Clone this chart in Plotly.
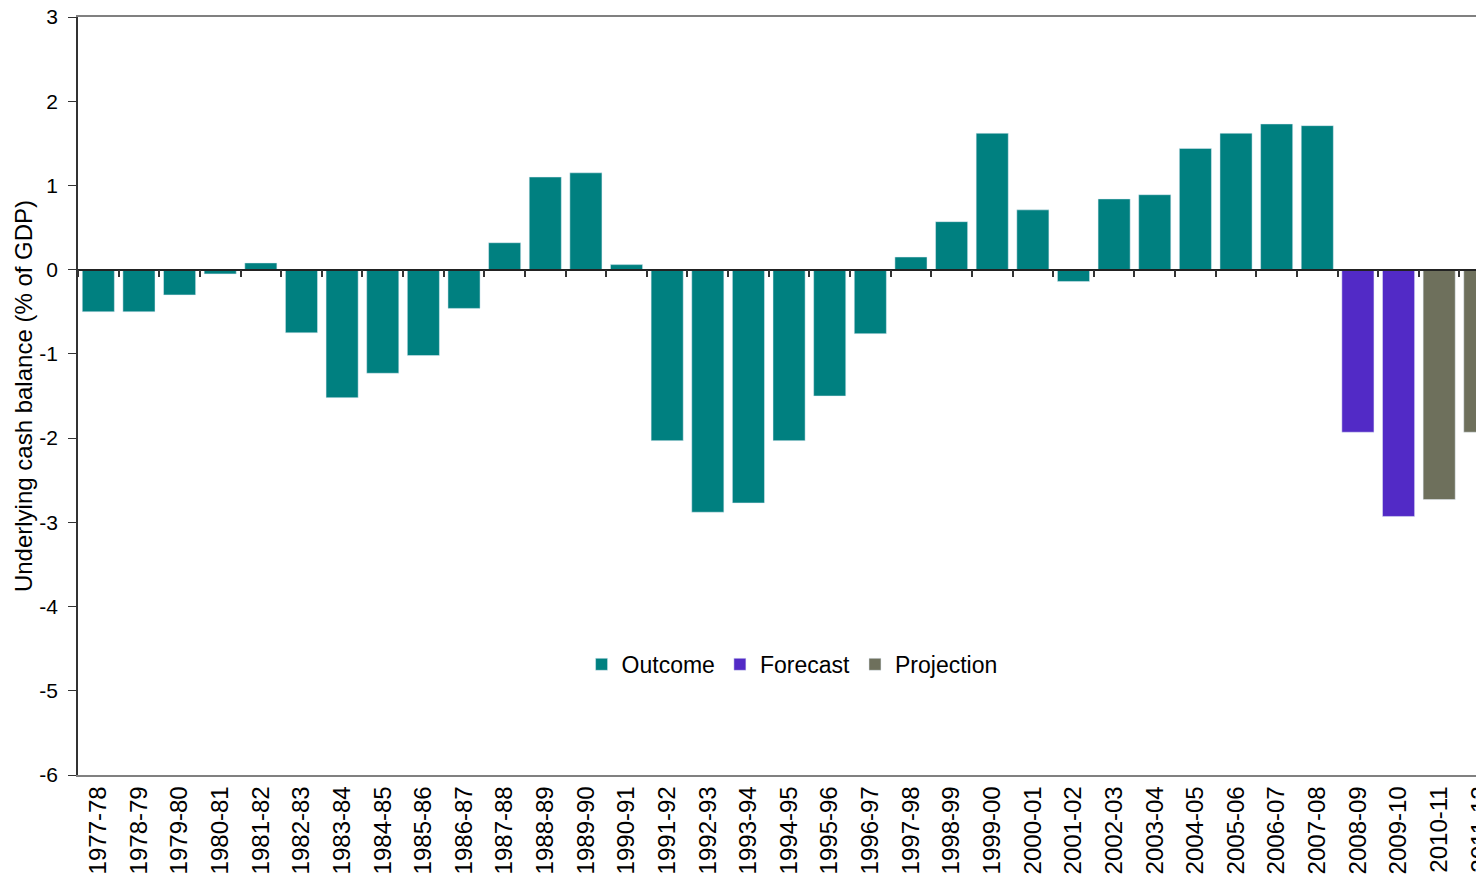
import plotly.graph_objects as go

# financial years
years = ['1977-78', '1978-79', '1979-80', '1980-81', '1981-82', '1982-83', '1983-84',
         '1984-85', '1985-86', '1986-87', '1987-88', '1988-89', '1989-90', '1990-91',
         '1991-92', '1992-93', '1993-94', '1994-95', '1995-96', '1996-97', '1997-98',
         '1998-99', '1999-00', '2000-01', '2001-02', '2002-03', '2003-04', '2004-05',
         '2005-06', '2006-07', '2007-08', '2008-09', '2009-10', '2010-11', '2011-12']

# underlying cash balance, % of GDP
outcome_years = years[:31]
outcome = [-0.5, -0.5, -0.3, -0.05, 0.08, -0.75, -1.52, -1.23, -1.02, -0.46,
           0.32, 1.1, 1.15, 0.06, -2.03, -2.88, -2.77, -2.03, -1.5, -0.76,
           0.15, 0.57, 1.62, 0.71, -0.14, 0.84, 0.89, 1.44, 1.62, 1.73, 1.71]
forecast_years = years[31:33]
forecast = [-1.93, -2.93]
projection_years = years[33:]
projection = [-2.73, -1.93]

y_ticks = [3, 2, 1, 0, -1, -2, -3, -4, -5, -6]

FONT = 'Liberation Sans, Arial, sans-serif'

fig = go.Figure()
fig.add_trace(go.Bar(x=outcome_years, y=outcome, name='Outcome', marker_color='#008080'))
fig.add_trace(go.Bar(x=forecast_years, y=forecast, name='Forecast', marker_color='#522AC6'))
fig.add_trace(go.Bar(x=projection_years, y=projection, name='Projection', marker_color='#6E705C'))
# invisible helper so the zero-line axis (x2) has categories
fig.add_trace(go.Scatter(x=years, y=[0] * len(years), xaxis='x2', mode='markers',
                         marker=dict(opacity=0), showlegend=False, hoverinfo='skip'))

# plot area runs past the right edge of the window, last year is cut off like the original
x_range = [-0.5, 34.3]

# page body adds an 8px margin, so margins here are 8px smaller
fig.update_layout(
    width=1484,
    height=880,
    margin=dict(l=70, r=0, t=9, b=113),
    plot_bgcolor='white',
    paper_bgcolor='white',
    font=dict(family=FONT, color='black'),
    barmode='overlay',
    bargap=0.21,
    showlegend=True,
    legend=dict(orientation='h', x=0.505, xanchor='center', y=0.146, yanchor='middle',
                font=dict(size=23), itemwidth=30, bgcolor='rgba(0,0,0,0)'),
    xaxis=dict(
        type='category', categoryorder='array', categoryarray=years,
        range=x_range, tickangle=-90, tickfont=dict(size=24), automargin=False,
        ticklabeloverflow='allow',
        showline=True, linecolor='#808080', linewidth=1.5, mirror=True,
        ticks='', showgrid=False, zeroline=False,
    ),
    xaxis2=dict(
        type='category', categoryorder='array', categoryarray=years,
        range=x_range, overlaying='x', anchor='free', position=6 / 9, side='bottom',
        showline=True, linecolor='#222222', linewidth=1.5, automargin=False,
        ticks='outside', tickson='boundaries', ticklen=7, tickcolor='#333333', tickwidth=1.5,
        showticklabels=False, showgrid=False, zeroline=False,
    ),
    yaxis=dict(
        range=[-6, 3], tickvals=y_ticks, ticktext=[str(v) for v in y_ticks],
        tickfont=dict(size=21), ticks='outside', ticklen=8, tickcolor='#333333',
        ticklabelstandoff=6, automargin=False, ticklabeloverflow='allow',
        showline=True, linecolor='#333333', linewidth=1.5,
        showgrid=False, zeroline=False,
        title=dict(text='Underlying cash balance (% of GDP)', font=dict(size=24), standoff=0),
    ),
)

fig.write_html("out.html")
